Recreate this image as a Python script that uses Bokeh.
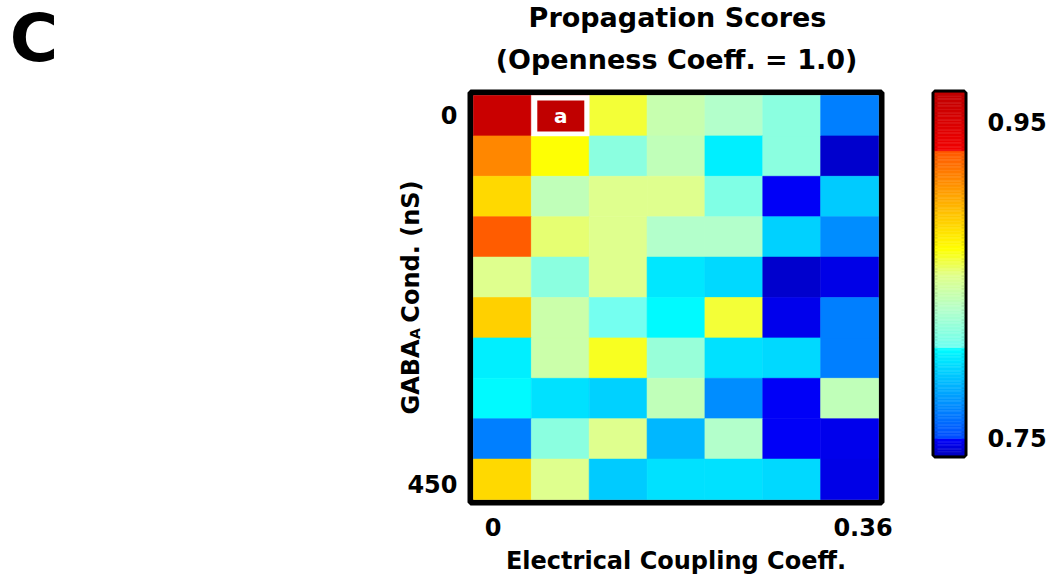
import numpy as np
from bokeh.plotting import figure
from bokeh.models import (ColumnDataSource, LinearColorMapper, FixedTicker, Range1d, LinearAxis)
from bokeh.layouts import column, row
from bokeh.core.properties import value
from bokeh.embed import file_html
from bokeh.resources import INLINE

# ---------------- data ----------------
coupling_ticks = ["0", "0.36"]          # x tick labels (first / last column)
gaba_ticks = ["0", "450"]               # y tick labels (first / last row)
n_cols = 7
n_rows = 10
# propagation scores: rows = GABA_A conductance (0 -> 450 nS), cols = coupling coeff (0 -> 0.36)
row0 = [0.962, 0.962, 0.863, 0.8405, 0.8306, 0.8178, 0.7661]
row1 = [0.9145, 0.870, 0.8178, 0.8368, 0.802, 0.8178, 0.7405]
row2 = [0.8842, 0.8368, 0.8529, 0.8529, 0.8135, 0.748, 0.7907]
row3 = [0.931, 0.8557, 0.8529, 0.8306, 0.8306, 0.7923, 0.7702]
row4 = [0.8525, 0.8178, 0.8529, 0.7989, 0.7948, 0.7405, 0.745]
row5 = [0.8871, 0.843, 0.8085, 0.8055, 0.8628, 0.7465, 0.7661]
row6 = [0.802, 0.843, 0.8657, 0.822, 0.7973, 0.7948, 0.7661]
row7 = [0.8055, 0.7973, 0.7923, 0.8368, 0.7702, 0.748, 0.8368]
row8 = [0.7661, 0.8178, 0.8529, 0.7841, 0.8306, 0.748, 0.7465]
row9 = [0.8842, 0.8525, 0.7907, 0.7973, 0.7973, 0.7948, 0.745]
rows = [row0, row1, row2, row3, row4, row5, row6, row7, row8, row9]
marked_cell = (0, 1)        # (row, col) marked "a"
marked_text = "a"
cbar_ticks = [0.75, 0.95]
cbar_low, cbar_high = 0.7386, 0.969

title_1 = "Propagation Scores"
title_2 = "(Openness Coeff. = 1.0)"
panel_letter = "C"
x_label = "Electrical Coupling Coeff."
y_label_main, y_label_sub, y_label_rest = "GABA", "A", "Cond. (nS)"

# ---------------- colour map (modified jet) ----------------
anchors = [
    (0.7386, (0.00, 0.00, 0.75)),
    (0.7494, (0.00, 0.00, 1.00)),
    (0.7497, (0.00, 0.30, 1.00)),
    (0.8071, (0.00, 1.00, 1.00)),
    (0.8074, (0.45, 1.00, 0.95)),
    (0.8135, (0.50, 1.00, 0.90)),
    (0.8306, (0.70, 1.00, 0.80)),
    (0.8529, (0.88, 1.00, 0.55)),
    (0.8700, (1.00, 1.00, 0.00)),
    (0.9316, (1.00, 0.35, 0.00)),
    (0.9322, (0.95, 0.00, 0.00)),
    (0.9690, (0.75, 0.00, 0.00)),
]
av = np.array([a[0] for a in anchors])
ac = np.array([a[1] for a in anchors])
npal = 256
edges = np.linspace(cbar_low, cbar_high, npal + 1)
centers = 0.5 * (edges[:-1] + edges[1:])
palette = []
for v in centers:
    c = [np.interp(v, av, ac[:, k]) for k in range(3)]
    palette.append("#%02x%02x%02x" % tuple(int(round(255 * q)) for q in c))
mapper = LinearColorMapper(palette=palette, low=cbar_low, high=cbar_high)

xs, ys, zs = [], [], []
for r, rr in enumerate(rows):
    for c, z in enumerate(rr):
        xs.append(c + 0.5)
        ys.append(r + 0.5)
        zs.append(z)
src = ColumnDataSource(dict(x=xs, y=ys, z=zs))

TXT = "DejaVu Sans"

# ---------------- layout (page pixels, page origin at 0,0) ----------------
PAGE_W, PAGE_H = 1051, 578
ROW_T = 86              # top of lower row
MAIN_R = 900            # right of main figure / left of colour bar figure
FR_L, FR_R, FR_T, FR_B = 470, 881, 91, 501   # heat-map frame
CB_L, CB_R, CB_T, CB_B = 934, 964, 92, 455   # colour bar frame
GRID_X0, GRID_Y0 = 473.0, 94.0
SX, SY = 405.0 / n_cols, 404.0 / n_rows


def blank_fig(w, h, x0, x1, y0, y1):
    f = figure(output_backend="svg", toolbar_location=None, width=w, height=h,
               x_range=Range1d(x0, x1), y_range=Range1d(y0, y1),
               x_axis_location=None, y_axis_location=None, min_border=0)
    f.grid.visible = False
    f.outline_line_color = None
    f.background_fill_color = None
    f.border_fill_color = None
    return f


def txt(f, x, y, text, size, font=TXT, angle=0.0):
    f.text(x=[x], y=[-y], text=[text], angle=angle, text_align="center", text_baseline="middle",
           text_font=value(font), text_font_style="bold", text_font_size=size, text_color="black")


# top strip: panel letter and two-line title
top = blank_fig(PAGE_W, ROW_T, 0, PAGE_W, -ROW_T, 0)
txt(top, 677, 16.5, title_1, "27px")
txt(top, 676, 59, title_2, "27px")
txt(top, 33.5, 38, panel_letter, "66px")

# main heat map
p = figure(output_backend="svg", toolbar_location=None,
           frame_width=FR_R - FR_L, frame_height=FR_B - FR_T,
           x_range=Range1d(-(GRID_X0 - FR_L) / SX, n_cols + (FR_R - GRID_X0 - 405.0) / SX),
           y_range=Range1d(n_rows + (FR_B - GRID_Y0 - 404.0) / SY, -(GRID_Y0 - FR_T) / SY),
           min_border_left=FR_L, min_border_top=FR_T - ROW_T,
           min_border_right=MAIN_R - FR_R, min_border_bottom=PAGE_H - FR_B)
p.grid.visible = False
p.background_fill_color = "white"
p.border_fill_color = "white"
p.outline_line_color = "black"
p.outline_line_width = 6

p.rect(x="x", y="y", width=1, height=1, source=src,
       fill_color={"field": "z", "transform": mapper},
       line_color={"field": "z", "transform": mapper}, line_width=0.6)

mr, mc = marked_cell
p.rect(x=[mc + 0.5], y=[mr + 0.5], width=1, height=1, fill_color="white",
       line_color="white", line_width=0.6)
p.rect(x=[mc + 0.5 + 0.5 / SX], y=[mr + 0.5 + 0.3 / SY], width=47 / SX, height=31 / SY,
       fill_color="#c00000", line_color=None)
p.text(x=[mc + 0.5 + 0.5 / SX], y=[mr + 0.5 + 0.5 / SY], text=[marked_text],
       text_align="center", text_baseline="middle", text_color="white",
       text_font=value(TXT), text_font_style="bold", text_font_size="20px")


def style_axis(ax, size="24px"):
    ax.axis_line_color = None
    ax.major_tick_line_color = None
    ax.minor_tick_line_color = None
    ax.major_tick_out = 0
    ax.major_tick_in = 0
    ax.minor_tick_out = 0
    ax.minor_tick_in = 0
    ax.major_label_text_font = TXT
    ax.major_label_text_font_style = "bold"
    ax.major_label_text_font_size = size
    ax.major_label_text_color = "black"
    ax.axis_label_text_font = TXT
    ax.axis_label_text_font_style = "bold"
    ax.axis_label_text_font_size = "24px"
    ax.axis_label_text_color = "black"


# tick-label anchor positions (in cell units) as placed in the original figure
x_tick_pos = [(492.5 - GRID_X0) / SX, (862.5 - GRID_X0) / SX]
y_tick_pos = [(113.0 - GRID_Y0) / SY, (482.0 - GRID_Y0) / SY]

style_axis(p.xaxis[0])
style_axis(p.yaxis[0])
p.xaxis.ticker = FixedTicker(ticks=x_tick_pos)
p.xaxis.major_label_overrides = {x_tick_pos[0]: coupling_ticks[0], x_tick_pos[1]: coupling_ticks[1]}
p.xaxis.major_label_standoff = 15
p.xaxis.axis_label = x_label
p.xaxis.axis_label_standoff = 8

p.yaxis.ticker = FixedTicker(ticks=y_tick_pos)
p.yaxis.major_label_overrides = {y_tick_pos[0]: gaba_ticks[0], y_tick_pos[1]: gaba_ticks[1]}
p.yaxis.major_label_standoff = 13
p.yaxis.axis_label = y_label_main + "\u00a0\u00a0" + y_label_rest
p.yaxis.axis_label_standoff = -21

# subscript of the y title, carried by a second (label-only) axis
sub_pos = (332.0 - GRID_Y0) / SY
sub_axis = LinearAxis(ticker=FixedTicker(ticks=[sub_pos]),
                      major_label_overrides={sub_pos: y_label_sub},
                      major_label_orientation="vertical")
style_axis(sub_axis, size="14px")
sub_axis.major_label_standoff = -28
p.add_layout(sub_axis, "left")

# colour bar
cb = figure(output_backend="svg", toolbar_location=None,
            frame_width=CB_R - CB_L, frame_height=CB_B - CB_T,
            x_range=Range1d(0, 1), y_range=Range1d(cbar_low, cbar_high),
            x_axis_location=None, y_axis_location="right",
            min_border_left=CB_L - MAIN_R, min_border_top=CB_T - ROW_T,
            min_border_right=PAGE_W - CB_R, min_border_bottom=PAGE_H - CB_B)
cb.grid.visible = False
cb.outline_line_color = "black"
cb.outline_line_width = 6
cb.border_fill_color = None
cb.quad(left=0, right=1, bottom=edges[:-1], top=edges[1:], fill_color=palette, line_color=palette,
        line_width=0.5)
ya = cb.yaxis[0]
style_axis(ya)
ya.ticker = FixedTicker(ticks=cbar_ticks)
ya.major_label_standoff = 23

layout = column(top, row(p, cb))
open("out.html", "w").write(file_html(layout, INLINE))
